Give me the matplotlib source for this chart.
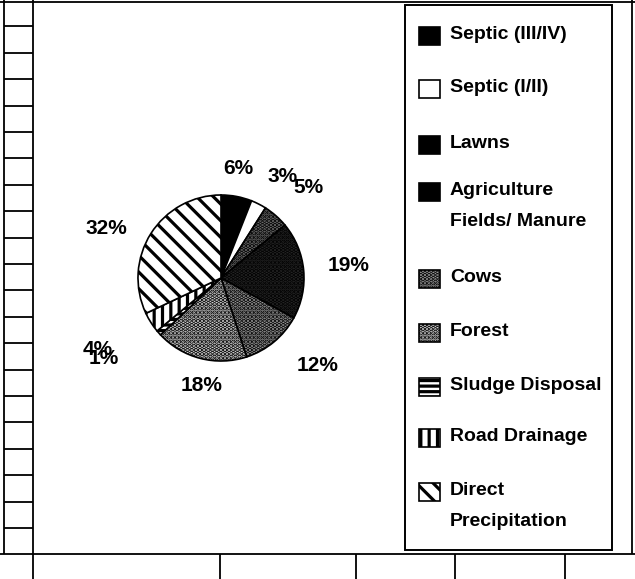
import matplotlib
matplotlib.use("Agg")
import matplotlib.pyplot as plt
from matplotlib.patches import Rectangle
import numpy as np

# data (clockwise from 12 o'clock)
sources = ["Septic (III/IV)", "Septic (I/II)", "Lawns", "Agriculture\nFields/ Manure",
           "Cows", "Forest", "Sludge Disposal", "Road Drainage", "Direct\nPrecipitation"]
shares = [6, 3, 5, 19, 12, 18, 1, 4, 32]

# slice styles
faces = ["black", "white", "#6e6e6e", "#262626", "#9a9a9a", "#d2d2d2", "white", "white", "white"]
hatches = [None, None, "....", "....", "....", "....", "---", "||", "\\\\"]
legend_faces = ["black", "white", "black", "black", "#9a9a9a", "#d2d2d2", "white", "white", "white"]

# label placement (radius factor, angle nudge in degrees)
lab_dist = [1.34, 1.43, 1.51, 1.54, 1.57, 1.32, 1.71, 1.72, 1.51]
lab_nudge = [2, -4, -2.6, 0, 8.5, 4, -7, -2.4, 9]

# legend rows (pixel y of first line)
leg_y = [36, 89, 145, 192, 279, 333, 387, 438, 492]

W, H = 635, 579
plt.rcParams["font.family"] = ["Liberation Sans", "DejaVu Sans"]
plt.rcParams["hatch.linewidth"] = 2.3

fig = plt.figure(figsize=(W / 100, H / 100), dpi=100)

# overlay in pixel coords for frame + legend
ov = fig.add_axes([0, 0, 1, 1])
ov.set_xlim(0, W)
ov.set_ylim(H, 0)
ov.axis("off")

lk = dict(color="black", lw=1.3, solid_capstyle="butt")
ov.plot([0, W], [1.5, 1.5], **lk)
ov.plot([33, 33], [0, H], **lk)
ov.plot([3.5, 3.5], [0, 554], **lk)
ov.plot([632, 632], [0, 554], **lk)
ov.plot([0, W], [554, 554], **lk)
for k in range(1, 21):
    ov.plot([3.5, 33], [k * 26.4, k * 26.4], **lk)
for x in [220, 356, 455, 565]:
    ov.plot([x, x], [554, H], **lk)

# legend box
ov.add_patch(Rectangle((405, 5), 207, 545, fill=False, ec="black", lw=1.4))
for lab, y, fc, h in zip(sources, leg_y, legend_faces, hatches):
    ov.add_patch(Rectangle((419, y - 9), 21, 18, facecolor=fc, edgecolor="black",
                           hatch=h, lw=1.2))
    ov.text(450, y - 10, lab, ha="left", va="top", fontsize=14, fontweight="bold",
            linespacing=2.05)

# pie
R = 83
cx, cy = 221, 278
half = 1.6 * R
ax = fig.add_axes([(cx - half) / W, (H - cy - half) / H, 2 * half / W, 2 * half / H])
wedges, _ = ax.pie(shares, startangle=90, counterclock=False, colors=faces,
                   wedgeprops=dict(edgecolor="black", linewidth=1.2))
for w, h in zip(wedges, hatches):
    if h:
        w.set_hatch(h)
ax.set_xlim(-1.6, 1.6)
ax.set_ylim(-1.6, 1.6)
ax.set_aspect("equal")
ax.axis("off")

for w, v, d, n in zip(wedges, shares, lab_dist, lab_nudge):
    a = np.deg2rad((w.theta1 + w.theta2) / 2 + n)
    ax.text(d * np.cos(a), d * np.sin(a), f"{v}%", ha="center", va="center",
            fontsize=15, fontweight="bold", clip_on=False)

fig.savefig("out.png", dpi=100)
